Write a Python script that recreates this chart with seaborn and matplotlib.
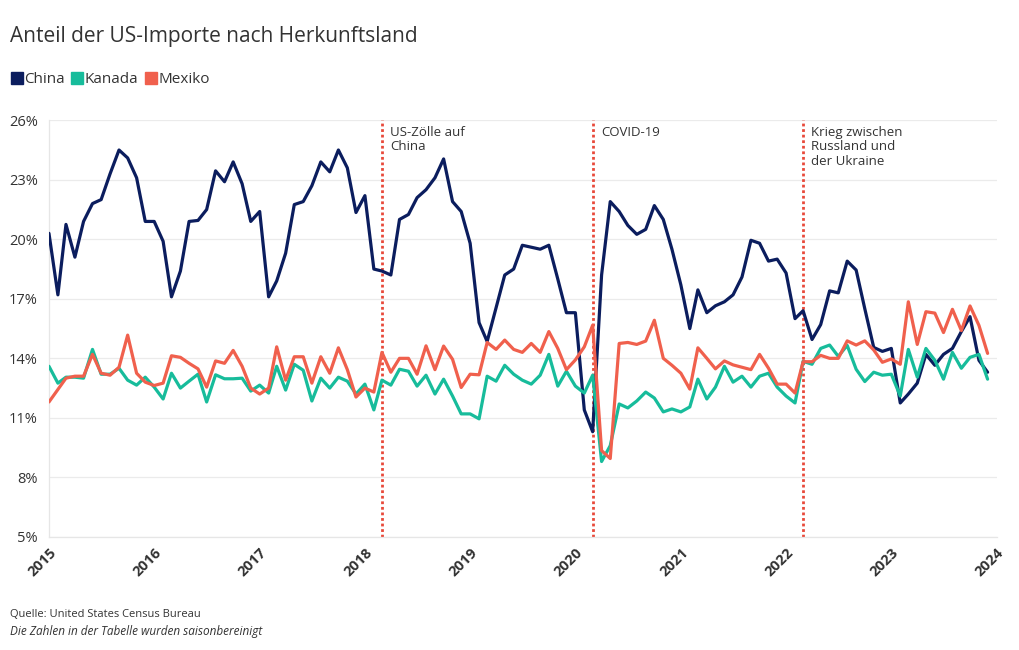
import matplotlib
matplotlib.use("Agg")
import matplotlib.pyplot as plt
import matplotlib.dates as mdates
from matplotlib.lines import Line2D
import numpy as np
import pandas as pd
import seaborn as sns

# monthly values Jan 2015 - Dec 2023, share of US imports in %
china = [20.3, 17.2, 20.75, 19.1, 20.9, 21.8, 22.0, 23.3, 24.5, 24.1, 23.1, 20.9,
         20.9, 19.9, 17.1, 18.4, 20.9, 20.95, 21.5, 23.45, 22.9, 23.9, 22.8, 20.9,
         21.4, 17.1, 17.9, 19.3, 21.75, 21.9, 22.7, 23.9, 23.4, 24.5, 23.6, 21.35,
         22.2, 18.5, 18.4, 18.2, 21.0, 21.25, 22.1, 22.5, 23.1, 24.05, 21.9, 21.4,
         19.8, 15.8, 14.85, 16.55, 18.2, 18.5, 19.7, 19.6, 19.5, 19.7, 18.0, 16.3,
         16.3, 11.4, 10.3, 18.2, 21.9, 21.4, 20.7, 20.25, 20.5, 21.7, 21.0, 19.5,
         17.7, 15.5, 17.45, 16.3, 16.65, 16.85, 17.2, 18.1, 19.95, 19.8, 18.9, 19.0,
         18.3, 16.0, 16.4, 14.95, 15.7, 17.4, 17.3, 18.9, 18.45, 16.5, 14.55, 14.35,
         14.5, 11.75, 12.2, 12.75, 14.2, 13.65, 14.2, 14.5, 15.35, 16.1, 13.9, 13.3]
kanada = [13.6, 12.75, 13.05, 13.05, 13.0, 14.45, 13.2, 13.2, 13.5, 12.9, 12.65, 13.05,
          12.55, 11.95, 13.25, 12.5, 12.85, 13.2, 11.8, 13.17, 12.97, 12.97, 13.0, 12.35,
          12.65, 12.25, 13.6, 12.4, 13.7, 13.4, 11.85, 13.0, 12.5, 13.05, 12.85, 12.2,
          12.7, 11.4, 12.9, 12.65, 13.45, 13.35, 12.6, 13.15, 12.2, 12.95, 12.1, 11.2,
          11.2, 10.95, 13.1, 12.85, 13.65, 13.2, 12.9, 12.7, 13.15, 14.2, 12.6, 13.35,
          12.6, 12.25, 13.15, 8.8, 9.6, 11.7, 11.5, 11.85, 12.3, 12.0, 11.3, 11.45,
          11.3, 11.55, 12.95, 11.95, 12.55, 13.6, 12.8, 13.1, 12.55, 13.1, 13.25, 12.55,
          12.1, 11.75, 13.85, 13.7, 14.5, 14.67, 14.1, 14.65, 13.45, 12.83, 13.3, 13.15,
          13.2, 12.1, 14.45, 13.05, 14.5, 13.9, 12.95, 14.3, 13.5, 14.05, 14.2, 12.95]
mexiko = [11.8, 12.43, 13.0, 13.1, 13.1, 14.2, 13.25, 13.15, 13.55, 15.17, 13.25, 12.8,
          12.63, 12.75, 14.13, 14.05, 13.75, 13.47, 12.55, 13.87, 13.75, 14.4, 13.6, 12.5,
          12.2, 12.5, 14.58, 12.9, 14.08, 14.08, 12.75, 14.08, 13.25, 14.53, 13.43, 12.05,
          12.5, 12.3, 14.3, 13.3, 14.0, 14.0, 13.2, 14.63, 13.43, 14.62, 13.95, 12.53,
          13.2, 13.17, 14.8, 14.45, 14.92, 14.45, 14.3, 14.75, 14.3, 15.35, 14.5, 13.43,
          13.92, 14.58, 15.67, 9.35, 8.95, 14.75, 14.8, 14.7, 14.87, 15.92, 14.0, 13.65,
          13.25, 12.45, 14.53, 14.0, 13.47, 13.87, 13.67, 13.55, 13.43, 14.2, 13.5, 12.7,
          12.7, 12.25, 13.83, 13.83, 14.15, 14.0, 14.0, 14.88, 14.67, 14.88, 14.42, 13.8,
          13.97, 13.7, 16.85, 14.7, 16.35, 16.28, 15.3, 16.47, 15.4, 16.64, 15.66, 14.25]

countries = ["China", "Kanada", "Mexiko"]
colors = {"China": "#0b1d5e", "Kanada": "#17bc9b", "Mexiko": "#f0604d"}

events = ["2018-03-01", "2020-03-01", "2022-03-01"]
event_labels = ["US-Zölle auf\nChina", "COVID-19", "Krieg zwischen\nRussland und\nder Ukraine"]

months = pd.date_range("2015-01-01", periods=len(china), freq="MS")
df = pd.DataFrame({
    "Monat": np.tile(months, 3),
    "Land": np.repeat(countries, len(months)),
    "Anteil": china + kanada + mexiko,
})

sns.set_theme(style="white")
plt.rcParams["font.family"] = ["Open Sans", "DejaVu Sans"]

fig = plt.figure(figsize=(10.2, 6.5), dpi=100)
ax = fig.add_axes([0.048, 0.174, 0.929, 0.641])

for d in events:
    ax.axvline(pd.Timestamp(d), color="#e8493a", lw=2, ls=(0, (1, 1)), zorder=1)

sns.lineplot(data=df, x="Monat", y="Anteil", hue="Land", palette=colors,
             linewidth=2.3, legend=False, ax=ax, zorder=3)

for d, lab in zip(events, event_labels):
    ax.annotate(lab, xy=(pd.Timestamp(d), 26), xytext=(6, -4), textcoords="offset points",
                ha="left", va="top", fontsize=9.5, color="#333333", linespacing=1.15)

ax.set_ylim(5, 26)
ax.set_yticks(range(5, 27, 3))
ax.set_yticklabels([f"{v}%" for v in range(5, 27, 3)])
ax.set_xlim(pd.Timestamp("2015-01-01"), pd.Timestamp("2024-01-01"))
ax.xaxis.set_major_locator(mdates.YearLocator())
ax.xaxis.set_major_formatter(mdates.DateFormatter("%Y"))
ax.grid(axis="y", color="#ebebeb", lw=0.9)
ax.set_xlabel("")
ax.set_ylabel("")
for s in ["top", "right"]:
    ax.spines[s].set_visible(False)
for s in ["left", "bottom"]:
    ax.spines[s].set_color("#e6e6e6")
    ax.spines[s].set_linewidth(0.9)
ax.tick_params(axis="y", length=0, labelsize=10.5, labelcolor="#333333", pad=8)
ax.tick_params(axis="x", length=4, color="#e0e0e0", labelsize=10.5, labelcolor="#333333", pad=2)
for t in ax.get_xticklabels():
    t.set_rotation(45)
    t.set_ha("right")
    t.set_rotation_mode("anchor")
    t.set_fontweight("bold")

fig.text(0.0098, 0.944, "Anteil der US-Importe nach Herkunftsland", fontsize=15,
         color="#333333", va="center")
handles = [Line2D([0], [0], marker="s", ls="none", markersize=8.5,
                  markerfacecolor=colors[c], markeredgecolor=colors[c]) for c in countries]
fig.legend(handles, countries, loc="center left", bbox_to_anchor=(0.012, 0.877), ncol=3,
           frameon=False, handlelength=0.6, handletextpad=0.2, columnspacing=0.5,
           borderpad=0, borderaxespad=0, fontsize=11, labelcolor="#333333")
fig.text(0.0098, 0.055, "Quelle: United States Census Bureau", fontsize=8, color="#333333",
         va="center")
fig.text(0.0098, 0.029, "Die Zahlen in der Tabelle wurden saisonbereinigt", fontsize=8.5,
         color="#333333", va="center", style="italic")

fig.savefig("out.png", dpi=100)
